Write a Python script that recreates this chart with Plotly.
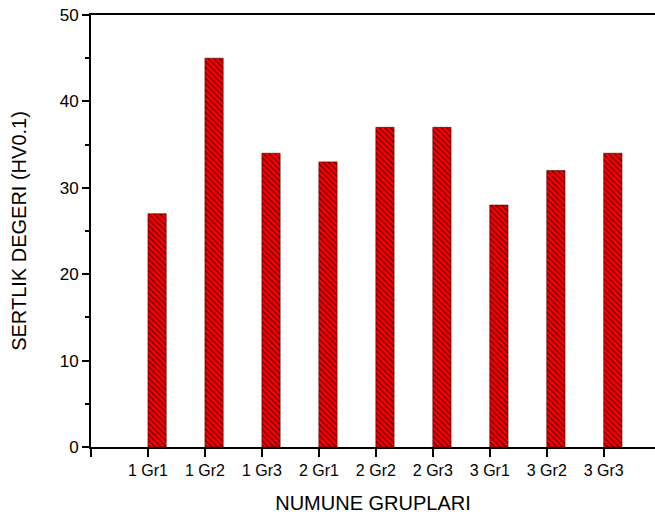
import plotly.graph_objects as go

# Sample groups and their measured hardness
groups = ["1 Gr1", "1 Gr2", "1 Gr3", "2 Gr1", "2 Gr2", "2 Gr3", "3 Gr1", "3 Gr2", "3 Gr3"]
hardness = [27, 45, 34, 33, 37, 37, 28, 32, 34]

y_ticks = [0, 10, 20, 30, 40, 50]

slots = list(range(1, len(groups) + 1))

fig = go.Figure()
fig.add_trace(go.Bar(
    x=slots,
    y=hardness,
    offset=0,
    width=0.32,
    marker=dict(
        color="#FF0000",
        line=dict(width=0.6, color="#400000"),
        pattern=dict(shape="\\", fgcolor="#000000", bgcolor="#FF0000",
                     size=4, solidity=0.4),
    ),
    showlegend=False,
))

font_family = "Liberation Sans, Arial, sans-serif"

fig.update_layout(
    width=655,
    height=515,
    margin=dict(l=91, r=0, t=15, b=68),
    paper_bgcolor="white",
    plot_bgcolor="white",
    font=dict(family=font_family, color="#000000", size=16),
    xaxis=dict(
        range=[0, 9.9],
        tickmode="array",
        tickvals=[0] + slots,
        ticktext=[""] + groups,
        ticks="outside",
        ticklen=8,
        tickwidth=1.5,
        tickcolor="#000000",
        showline=True,
        linecolor="#000000",
        linewidth=2,
        mirror=True,
        showgrid=False,
        zeroline=False,
        tickfont=dict(size=16),
        title=dict(text="NUMUNE GRUPLARI", font=dict(size=20), standoff=18),
    ),
    yaxis=dict(
        range=[0, 50],
        tickmode="array",
        tickvals=y_ticks,
        ticks="outside",
        ticklen=7,
        tickwidth=1.5,
        tickcolor="#000000",
        minor=dict(dtick=5, ticks="outside", ticklen=4, tickwidth=1.5, tickcolor="#000000"),
        showline=True,
        linecolor="#000000",
        linewidth=2,
        showgrid=False,
        zeroline=False,
        tickfont=dict(size=17),
        title=dict(text="SERTLIK DEGERI (HV0.1)", font=dict(size=20), standoff=28),
    ),
)

fig.write_html("out.html")
